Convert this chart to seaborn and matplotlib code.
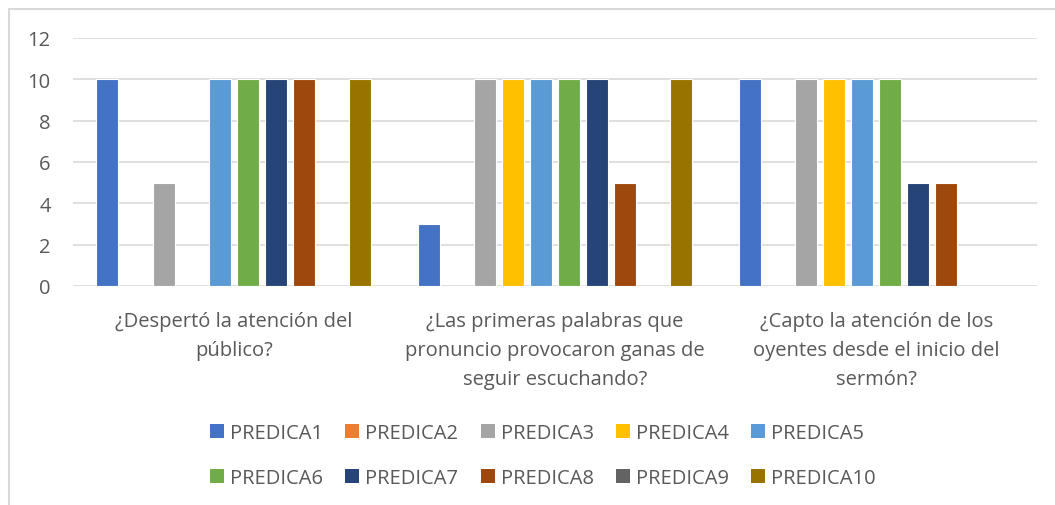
import matplotlib
matplotlib.use("Agg")
import matplotlib.pyplot as plt
from matplotlib.patches import Patch
from matplotlib.lines import Line2D
import seaborn as sns
import pandas as pd

# chart data
categories = [
    "¿Despertó la atención del\npúblico?",
    "¿Las primeras palabras que\npronuncio provocaron ganas de\nseguir escuchando?",
    "¿Capto la atención de los\noyentes desde el inicio del\nsermón?",
]
series = ["PREDICA1", "PREDICA2", "PREDICA3", "PREDICA4", "PREDICA5",
          "PREDICA6", "PREDICA7", "PREDICA8", "PREDICA9", "PREDICA10"]
predica1 = [10, 3, 10]
predica2 = [0, 0, 0]
predica3 = [5, 10, 10]
predica4 = [0, 10, 10]
predica5 = [10, 10, 10]
predica6 = [10, 10, 10]
predica7 = [10, 10, 5]
predica8 = [10, 5, 5]
predica9 = [0, 0, 0]
predica10 = [10, 10, 0]
yticks = [0, 2, 4, 6, 8, 10, 12]

colors = ["#4472C4", "#ED7D31", "#A5A5A5", "#FFC000", "#5B9BD5",
          "#70AD47", "#264478", "#9E480E", "#636363", "#997300"]

values = [predica1, predica2, predica3, predica4, predica5,
          predica6, predica7, predica8, predica9, predica10]
rows = []
for name, vals in zip(series, values):
    for cat, v in zip(categories, vals):
        rows.append({"pregunta": cat, "serie": name, "valor": v})
df = pd.DataFrame(rows)

sns.set_theme(style="white")
plt.rcParams["font.family"] = ["Open Sans", "DejaVu Sans"]
text_color = "#595959"
grid_color = "#D9D9D9"
fs = 14.5

W, H = 1055, 506
fig = plt.figure(figsize=(W / 100, H / 100), dpi=100)
fig.patch.set_facecolor("white")
ax = fig.add_axes([73 / W, (H - 287) / H, (1037 - 73) / W, (287 - 39) / H])

sns.barplot(
    data=df, x="pregunta", y="valor", hue="serie",
    order=categories, hue_order=series, palette=colors,
    saturation=1, width=0.873, gap=0.214, errorbar=None,
    edgecolor="white", linewidth=0.8, legend=False, ax=ax,
)

# Excel leaves zero values empty
for p in list(ax.patches):
    if p.get_height() == 0:
        p.remove()

ax.set_xlim(-0.5, len(categories) - 0.5)
ax.set_ylim(0, 12)
ax.set_yticks(yticks)
ax.set_yticklabels([str(t) for t in yticks])
ax.set_xlabel("")
ax.set_ylabel("")
ax.set_axisbelow(True)
ax.yaxis.grid(True, color=grid_color, linewidth=1.2)
ax.xaxis.grid(False)
for s in ax.spines.values():
    s.set_visible(False)
ax.tick_params(axis="y", length=0, pad=16, labelsize=fs, labelcolor=text_color)
ax.tick_params(axis="x", length=0, pad=18, labelsize=fs, labelcolor=text_color)
for lbl in ax.get_xticklabels():
    lbl.set_linespacing(1.6)
ax.set_facecolor("white")

# legend, filled row by row like Excel (matplotlib fills by column)
ncol = 5
nrow = 2
order = [r * ncol + c for c in range(ncol) for r in range(nrow)]
handles = [Patch(facecolor=colors[i], edgecolor="none") for i in order]
labels = [series[i] for i in order]
fig.legend(
    handles, labels, loc="center", ncol=ncol,
    bbox_to_anchor=(543 / W, 1 - 456.5 / H), bbox_transform=fig.transFigure,
    frameon=False, fontsize=fs, labelcolor=text_color,
    handlelength=0.7, handleheight=0.7, handletextpad=0.3,
    columnspacing=1.1, labelspacing=1.25,
)

# chart area border
fig.add_artist(Line2D([9 / W, 9 / W, 1.0], [0.0, 1 - 10 / H, 1 - 10 / H],
                      transform=fig.transFigure, color=grid_color, linewidth=1.5))

fig.savefig("out.png", dpi=100, facecolor="white")
